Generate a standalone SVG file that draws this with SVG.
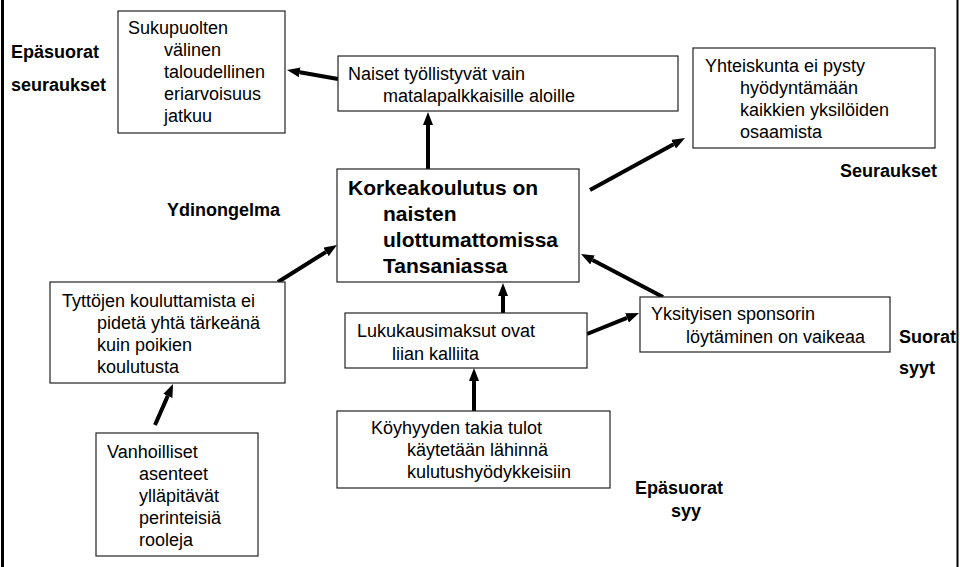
<svg xmlns="http://www.w3.org/2000/svg" width="960" height="567" viewBox="0 0 960 567">
<style>
.box{fill:#fff;stroke:#222;stroke-width:1.2}
.t{font-family:"Liberation Sans",Arial,sans-serif;font-size:18px;fill:#000}
.b{font-family:"Liberation Sans",Arial,sans-serif;font-size:18px;font-weight:bold;fill:#000}
.core{font-family:"Liberation Sans",Arial,sans-serif;font-size:21px;font-weight:bold;fill:#000}
.arr{stroke:#000;stroke-width:4;fill:none;marker-end:url(#ah)}
</style>
<defs>
<marker id="ah" markerUnits="userSpaceOnUse" markerWidth="13" markerHeight="10" refX="0" refY="5" orient="auto">
<path d="M0,0 L13,5 L0,10 z" fill="#000"/>
</marker>
</defs>
<rect x="0" y="0" width="960" height="567" fill="#fff"/>
<line x1="2.5" y1="0" x2="2.5" y2="567" stroke="#000" stroke-width="3"/>
<line x1="957.5" y1="0" x2="957.5" y2="567" stroke="#000" stroke-width="2"/>

<g id="labels">
<text class="b" x="11" y="58">Epäsuorat</text>
<text class="b" x="11" y="91">seuraukset</text>
<text class="b" x="167" y="216">Ydinongelma</text>
<text class="b" x="840" y="177">Seuraukset</text>
<text class="b" x="899" y="343">Suorat</text>
<text class="b" x="899" y="374">syyt</text>
<text class="b" x="635" y="494">Epäsuorat</text>
<text class="b" x="671" y="517">syy</text>
</g>

<g id="connectors">
<line class="arr" x1="338" y1="79" x2="299.8" y2="72.3"/>
<line class="arr" x1="428" y1="169" x2="428" y2="125"/>
<line class="arr" x1="590" y1="190" x2="673.6" y2="144.2"/>
<line class="arr" x1="278" y1="282" x2="326" y2="251.9"/>
<line class="arr" x1="155" y1="425" x2="167.8" y2="395.9"/>
<line class="arr" x1="503" y1="313" x2="503" y2="296"/>
<line class="arr" x1="474" y1="411" x2="474" y2="381"/>
<line class="arr" x1="587" y1="334" x2="627" y2="317.9"/>
<line class="arr" x1="663" y1="297" x2="592.5" y2="260"/>
</g>

<g id="n-sukupuolten">
<rect class="box" x="118" y="11" width="167" height="122"/>
<text class="t"><tspan x="128" y="34">Sukupuolten</tspan><tspan x="164" y="56">välinen</tspan><tspan x="164" y="78">taloudellinen</tspan><tspan x="164" y="100">eriarvoisuus</tspan><tspan x="164" y="122">jatkuu</tspan></text>
</g>

<g id="n-naiset">
<rect class="box" x="338" y="56" width="340" height="55"/>
<text class="t"><tspan x="348" y="80">Naiset työllistyvät vain</tspan><tspan x="383" y="102">matalapalkkaisille aloille</tspan></text>
</g>

<g id="n-yhteiskunta">
<rect class="box" x="693" y="48" width="242" height="100"/>
<text class="t"><tspan x="705" y="72">Yhteiskunta ei pysty</tspan><tspan x="740" y="94">hyödyntämään</tspan><tspan x="740" y="116">kaikkien yksilöiden</tspan><tspan x="740" y="138">osaamista</tspan></text>
</g>

<g id="n-korkeakoulutus">
<rect class="box" x="337" y="169" width="242" height="113"/>
<text class="core"><tspan x="348" y="195">Korkeakoulutus on</tspan><tspan x="383" y="221">naisten</tspan><tspan x="383" y="247">ulottumattomissa</tspan><tspan x="383" y="273">Tansaniassa</tspan></text>
</g>

<g id="n-tyttojen">
<rect class="box" x="50" y="282" width="235" height="101"/>
<text class="t"><tspan x="62" y="307">Tyttöjen kouluttamista ei</tspan><tspan x="97" y="329">pidetä yhtä tärkeänä</tspan><tspan x="97" y="351">kuin poikien</tspan><tspan x="97" y="373">koulutusta</tspan></text>
</g>

<g id="n-lukukausimaksut">
<rect class="box" x="345" y="313" width="242" height="55"/>
<text class="t"><tspan x="357" y="337">Lukukausimaksut ovat</tspan><tspan x="392" y="360">liian kalliita</tspan></text>
</g>

<g id="n-yksityisen">
<rect class="box" x="640" y="297" width="250" height="55"/>
<text class="t"><tspan x="651" y="320">Yksityisen sponsorin</tspan><tspan x="686" y="343">löytäminen on vaikeaa</tspan></text>
</g>

<g id="n-koyhyyden">
<rect class="box" x="337" y="411" width="273" height="77"/>
<text class="t"><tspan x="371" y="434">Köyhyyden takia tulot</tspan><tspan x="407" y="456">käytetään lähinnä</tspan><tspan x="407" y="478">kulutushyödykkeisiin</tspan></text>
</g>

<g id="n-vanhoilliset">
<rect class="box" x="96" y="433" width="162" height="123"/>
<text class="t"><tspan x="107" y="458">Vanhoilliset</tspan><tspan x="139" y="480">asenteet</tspan><tspan x="139" y="502">ylläpitävät</tspan><tspan x="139" y="524">perinteisiä</tspan><tspan x="139" y="546">rooleja</tspan></text>
</g>
</svg>
